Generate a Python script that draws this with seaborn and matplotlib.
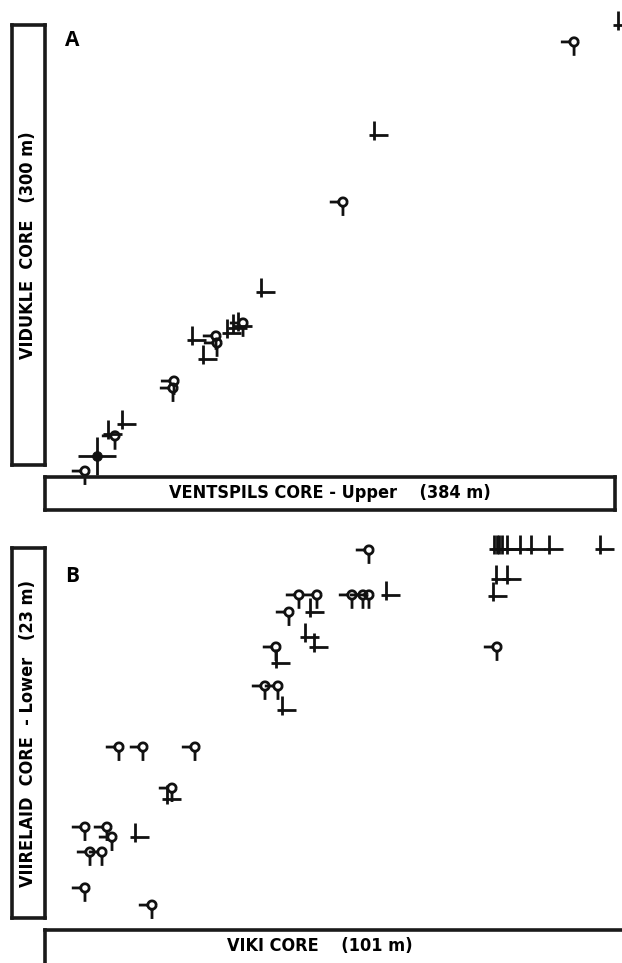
import numpy as np
import pandas as pd
import matplotlib
matplotlib.use('Agg')
import matplotlib.pyplot as plt
from matplotlib.path import Path
import seaborn as sns

# Panel A: Ventspils (x, m) vs Vidukle (y, m)
a_fad_x = [26.6, 46.6, 85.9, 85.2, 113.8, 114.5, 131.8, 198.3, 352.1]
a_fad_y = [3.9, 27.0, 63.0, 58.4, 92.6, 88.0, 101.1, 180.5, 285.6]
a_lad_x = [41.9, 51.2, 97.8, 105.2, 121.1, 125.1, 128.4, 143.8, 219.0, 381.3]
a_lad_y = [28.2, 34.8, 89.9, 77.5, 94.5, 97.8, 99.1, 121.4, 224.5, 296.7]
a_tie_x = [34.6]
a_tie_y = [13.8]

# Panel B: Viki (x, m) vs Viirelaid (y, m)
b_fad_x = [12.95, 17.15, 26.26, 22.23, 7.00, 10.85, 11.73, 7.88, 9.98, 7.00, 18.73,
           40.43, 38.51, 40.78, 42.71, 44.46, 47.61, 53.74, 55.66, 56.71, 56.71, 79.12]
b_fad_y = [10.79, 10.79, 10.79, 8.37, 6.07, 6.07, 5.48, 4.60, 4.60, 2.48, 1.47,
           16.69, 14.39, 14.39, 18.75, 19.76, 19.76, 19.76, 19.76, 19.76, 22.41, 16.69]
b_lad_x = [15.75, 21.35, 46.39, 45.51, 47.09, 40.43, 41.48, 59.69,
           78.59, 79.12, 79.47, 79.99, 80.87, 83.14, 85.07, 88.22, 97.15,
           78.94, 80.87, 78.42]
b_lad_y = [5.48, 7.73, 18.75, 17.28, 16.69, 15.75, 12.97, 19.76,
           22.47, 22.47, 22.47, 22.47, 22.47, 22.47, 22.47, 22.47, 22.47,
           20.70, 20.70, 19.70]

# Marker shapes
def lollipop():
    r = 0.3
    t = np.linspace(0, 2 * np.pi, 33)
    verts = [(-0.95, 0), (-r, 0), (0, -r), (0, -1)]
    codes = [Path.MOVETO, Path.LINETO, Path.MOVETO, Path.LINETO]
    for i, a in enumerate(t):
        verts.append((r * np.cos(a), r * np.sin(a)))
        codes.append(Path.MOVETO if i == 0 else Path.LINETO)
    return Path(verts, codes)

def lad_cross():
    verts = [(0, -0.38), (0, 1), (-0.38, 0), (1, 0)]
    codes = [Path.MOVETO, Path.LINETO, Path.MOVETO, Path.LINETO]
    return Path(verts, codes)

def full_cross():
    verts = [(0, -1), (0, 1), (-1, 0), (1, 0)]
    codes = [Path.MOVETO, Path.LINETO, Path.MOVETO, Path.LINETO]
    return Path(verts, codes)

sns.set_style('white')
plt.rcParams['font.family'] = ['DejaVu Sans']
plt.rcParams['text.color'] = 'black'

W, H = 622, 963
fig = plt.figure(figsize=(W / 100, H / 100), dpi=100)

def px_axes(x0, y0, x1, y1):
    return fig.add_axes([x0 / W, 1 - y1 / H, (x1 - x0) / W, (y1 - y0) / H])

MS = 400
LW = 2.0
INK = '#111111'

def draw_marks(ax, fx, fy, lx, ly):
    sns.scatterplot(x=fx, y=fy, ax=ax, marker=lollipop(), s=MS, facecolor='none',
                    edgecolor=INK, linewidth=LW, clip_on=False, legend=False)
    sns.scatterplot(x=lx, y=ly, ax=ax, marker=lad_cross(), s=MS, facecolor='none',
                    edgecolor=INK, linewidth=LW, clip_on=False, legend=False)

# Panel A
axA = px_axes(45, 20, 622, 477)
draw_marks(axA, a_fad_x, a_fad_y, a_lad_x, a_lad_y)
sns.scatterplot(x=a_tie_x, y=a_tie_y, ax=axA, marker=full_cross(), s=750, facecolor='none',
                edgecolor=INK, linewidth=LW, clip_on=False, legend=False)
sns.scatterplot(x=a_tie_x, y=a_tie_y, ax=axA, marker='o', s=50, color=INK,
                edgecolor=INK, clip_on=False, legend=False)
axA.set_xlim(0, 384)
axA.set_ylim(0, 300)
axA.set_axis_off()

# Panel B
axB = px_axes(45, 540, 622, 930)
draw_marks(axB, b_fad_x, b_fad_y, b_lad_x, b_lad_y)
axB.set_xlim(0, 101)
axB.set_ylim(0, 23)
axB.set_axis_off()

LABEL = dict(fontsize=13, fontweight='bold', fontstretch='condensed',
             family=['DejaVu Sans'], color='black')

def label_box(x0, y0, x1, y1, text, rotation=0):
    bx = px_axes(x0, y0, x1, y1)
    bx.set_xticks([])
    bx.set_yticks([])
    bx.patch.set_alpha(0)
    for sp in bx.spines.values():
        sp.set_linewidth(2.6)
        sp.set_color('#1a1a1a')
    bx.text(0.5, 0.5, text, rotation=rotation, ha='center', va='center',
            transform=bx.transAxes, **LABEL)
    return bx

label_box(12, 25, 45, 465, 'VIDUKLE  CORE   (300 m)', rotation=90)
label_box(45, 477, 615, 510, 'VENTSPILS CORE - Upper    (384 m)')
label_box(12, 548, 45, 918, 'VIIRELAID  CORE  - Lower   (23 m)', rotation=90)
label_box(45, 930, 630, 995, '')
fig.text(320 / W, 1 - 946 / H, 'VIKI CORE    (101 m)', ha='center', va='center', **LABEL)

fig.text(65 / W, 1 - 41 / H, 'A', ha='left', va='center', fontsize=15,
         fontweight='bold', family=['Open Sans', 'DejaVu Sans'])
fig.text(65 / W, 1 - 576 / H, 'B', ha='left', va='center', fontsize=15,
         fontweight='bold', family=['Open Sans', 'DejaVu Sans'])

fig.savefig('out.png', dpi=100)
